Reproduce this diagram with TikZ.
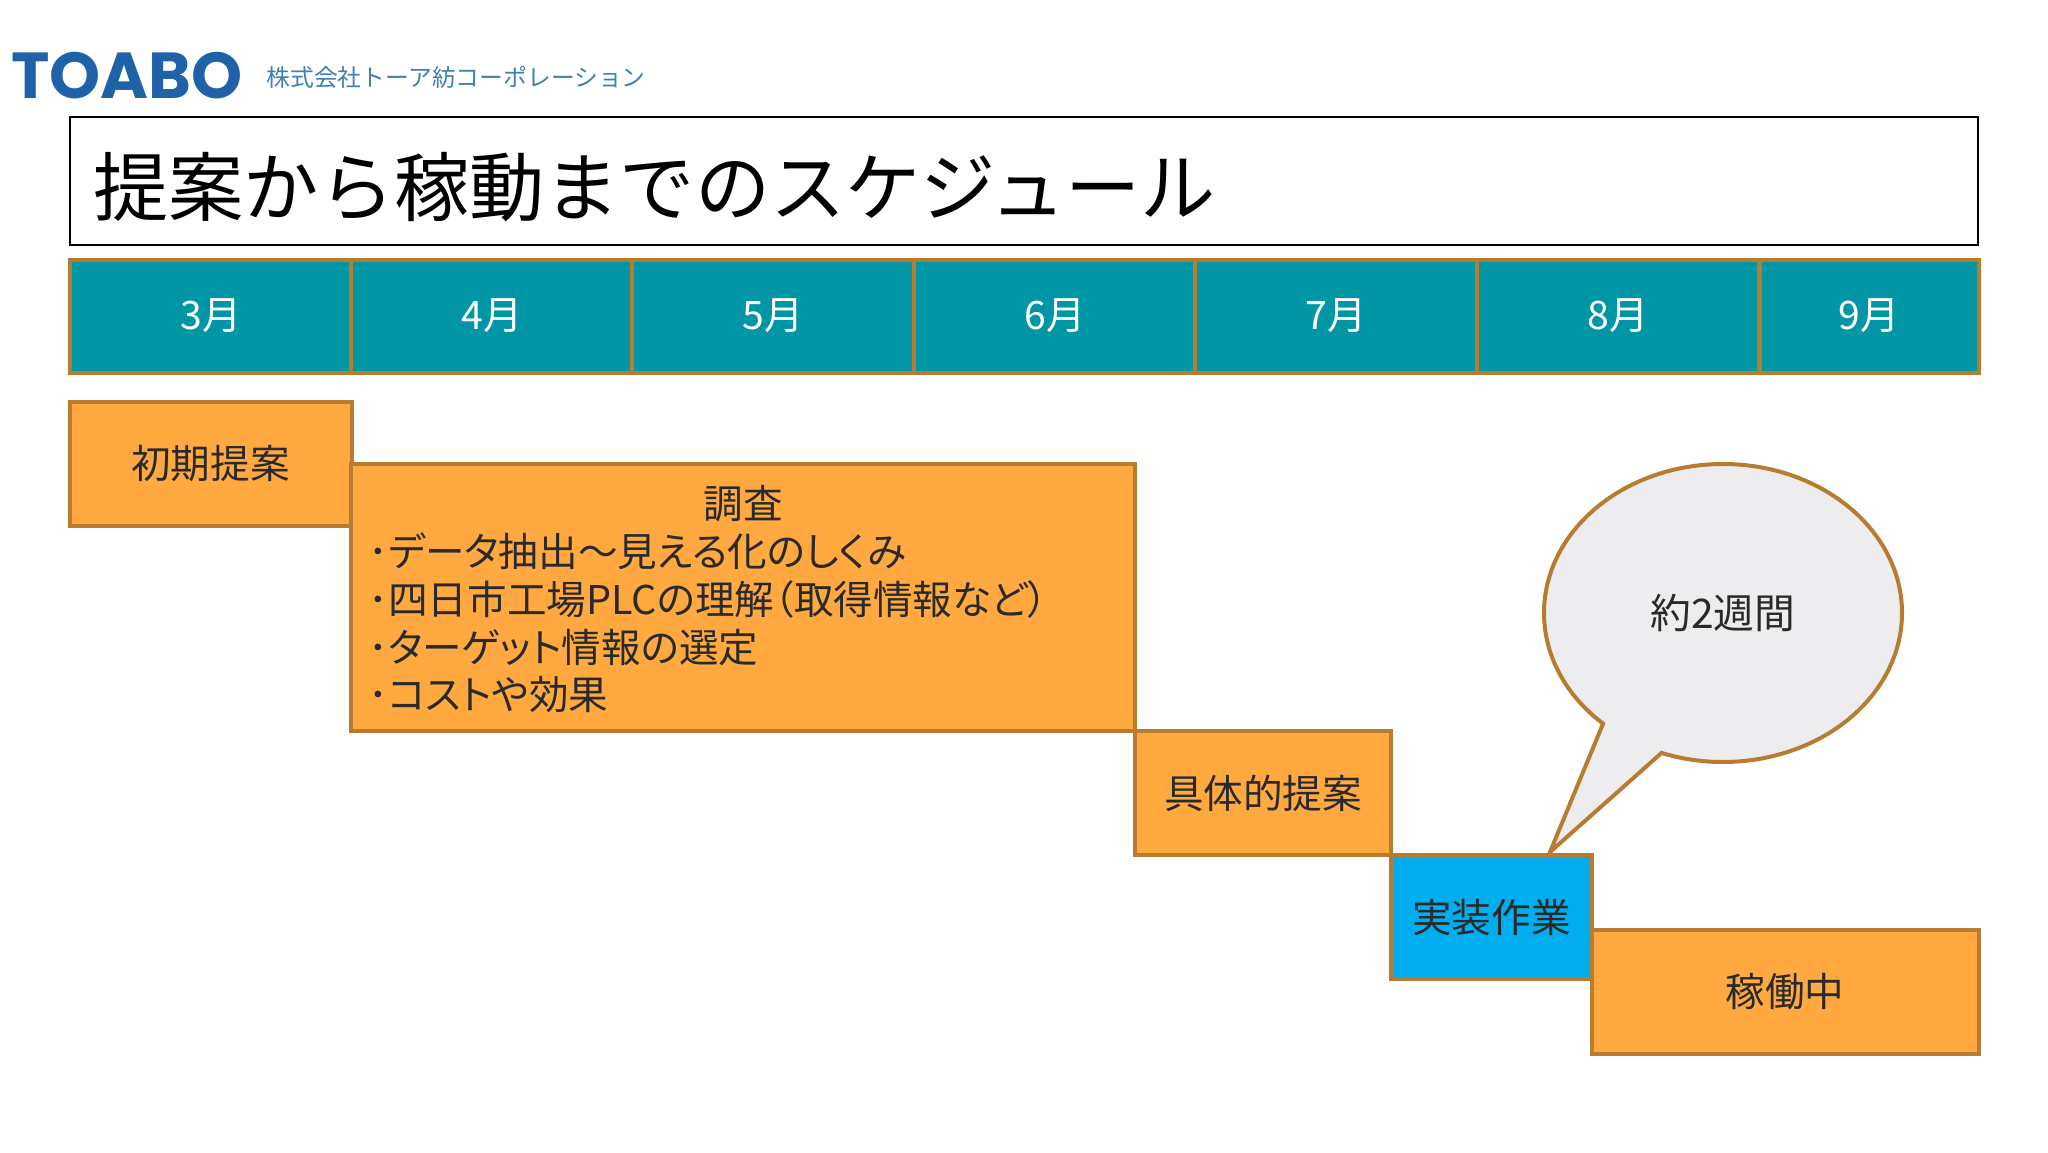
\documentclass[tikz,border=0pt]{standalone}
\usepackage{fontspec}
\setmainfont{Noto Sans CJK JP}
\newfontfamily\logofont{Poppins}
\newfontfamily\listfont[RawFeature=+palt]{Noto Sans CJK JP}
\usetikzlibrary{shapes.callouts}

\definecolor{frameline}{HTML}{B87C30}
\definecolor{monthfill}{HTML}{0096A6}
\definecolor{taskfill}{HTML}{FFA940}
\definecolor{workfill}{HTML}{00AEEF}
\definecolor{bubblefill}{HTML}{EDEDF0}
\definecolor{logoblue}{HTML}{1F62A8}
\definecolor{logotext}{HTML}{3F7FB5}
\definecolor{tasktext}{HTML}{2A2A2A}

\begin{document}
\begin{tikzpicture}[x=0.5pt, y=-0.5pt,
        month/.style={draw=frameline, fill=monthfill, line width=2pt, text=white,
            inner sep=0pt, minimum height=56.5pt, font=\fontsize{19.6}{22}\selectfont},
        task/.style={draw=frameline, fill=taskfill, line width=2pt, text=tasktext,
            inner sep=0pt, font=\fontsize{19.8}{23.85}\selectfont},
        tasktxt/.style={text=tasktext, inner sep=0pt, font=\fontsize{19.8}{23.85}\selectfont}]
        \useasboundingbox (0, 0) rectangle (2048, 1152);

        \node[inner sep=0pt, text=logoblue, font=\logofont\bfseries\fontsize{32.5}{34}\selectfont](logo) at (127, 76){TOABO};
        \node[inner sep=0pt, text=logotext, anchor=west, font=\fontsize{11.9}{14}\selectfont](company) at (266, 77){株式会社トーア紡コーポレーション};

        \node[draw=black, line width=0.8pt, minimum width=954pt, minimum height=64pt, inner sep=0pt](titlebox) at (1024, 181){};
        \node[inner sep=0pt, anchor=west, font=\fontsize{37.6}{42}\selectfont](title) at (93, 187){提案から稼動までのスケジュール};

        \node[month, minimum width=141pt](m3) at (211, 316){3月};
        \node[month, minimum width=141pt](m4) at (492, 316){4月};
        \node[month, minimum width=141pt](m5) at (773, 316){5月};
        \node[month, minimum width=141pt](m6) at (1055, 316){6月};
        \node[month, minimum width=141pt](m7) at (1336, 316){7月};
        \node[month, minimum width=141pt](m8) at (1618, 316){8月};
        \node[month, minimum width=109.5pt](m9) at (1869, 316){9月};

        \node[task, minimum width=141pt, minimum height=62pt](proposal) at (210.5, 463.5){初期提案};
        \node[task, minimum width=392pt, minimum height=133.5pt](survey) at (743, 597){};
        \node[tasktxt](surveytop) at (743.5, 504){調査};
        \node[tasktxt, anchor=west, align=left, font=\listfont\fontsize{19.8}{23.85}\selectfont](surveylist) at (368, 623){･データ抽出～見える化のしくみ\\･四日市工場PLCの理解（取得情報など）\\･ターゲット情報の選定\\･コストや効果};
        \node[task, minimum width=128pt, minimum height=62pt](concrete) at (1263, 793){具体的提案};
        \node[task, minimum width=100.5pt, minimum height=62pt, fill=workfill](work) at (1491.5, 917){実装作業};
        \node[task, minimum width=193.5pt, minimum height=62pt](running) at (1785, 991.5){稼働中};

        \node[ellipse callout, draw=frameline, fill=bubblefill, line width=2pt, text=tasktext,
            minimum width=179pt, minimum height=149pt, inner sep=0pt,
            callout absolute pointer={(1550, 852)}, callout pointer arc=22,
            font=\fontsize{20.4}{23.85}\selectfont](bubble) at (1723, 613){約2週間};
    \end{tikzpicture}
\end{document}
